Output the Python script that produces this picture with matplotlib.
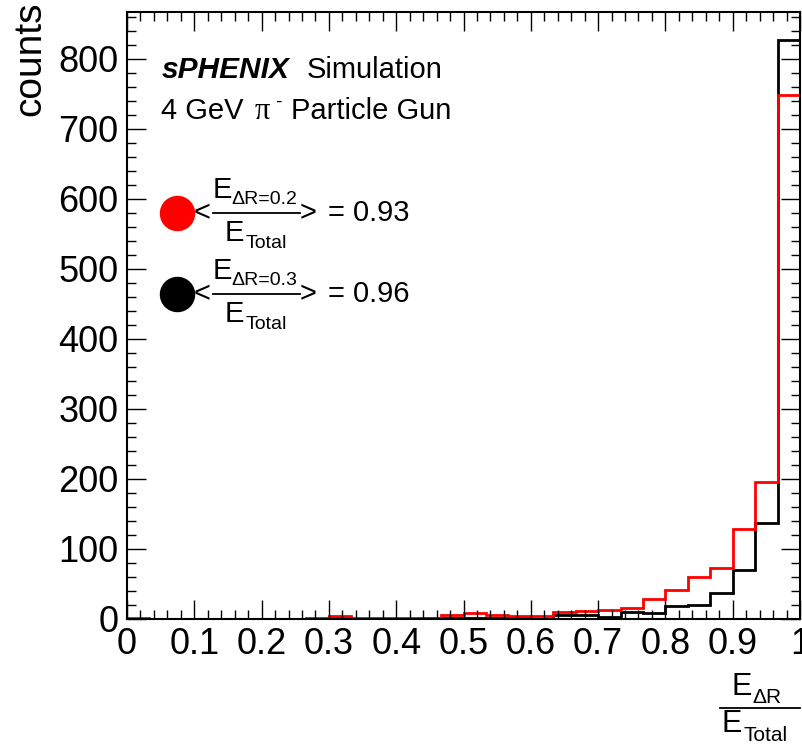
import numpy as np
import matplotlib
matplotlib.use("Agg")
import matplotlib.pyplot as plt
from matplotlib.ticker import MultipleLocator

plt.rcParams['font.family'] = ['Liberation Sans', 'DejaVu Sans']
plt.rcParams['mathtext.fontset'] = 'custom'
plt.rcParams['mathtext.rm'] = 'Liberation Sans'
plt.rcParams['mathtext.it'] = 'Liberation Sans:italic'
plt.rcParams['mathtext.bf'] = 'Liberation Sans:bold'

# ---- data (30 bins from 0 to 1) ----
bin_edges = np.linspace(0.0, 1.0, 31)
counts_dr02 = [1, 0, 0, 0, 0, 0, 0, 0, 1, 4,
               2, 1, 2, 2, 5, 8, 5, 4, 4, 10,
               12, 13, 16, 28, 41, 60, 73, 129, 196, 749]
counts_dr03 = [0, 0, 0, 0, 0, 0, 0, 0, 0, 1,
               0, 0, 0, 1, 1, 1, 1, 1, 0, 6,
               6, 3, 10, 8, 18, 20, 37, 70, 137, 827]
mean_dr02 = "0.93"
mean_dr03 = "0.96"
x_ticks = [0, 0.1, 0.2, 0.3, 0.4, 0.5, 0.6, 0.7, 0.8, 0.9, 1.0]
x_tick_labels = ["0", "0.1", "0.2", "0.3", "0.4", "0.5", "0.6", "0.7", "0.8", "0.9", "1"]
y_ticks = [0, 100, 200, 300, 400, 500, 600, 700, 800]

W, H = 802, 756
fig = plt.figure(figsize=(W / 100, H / 100), dpi=100)
ax = fig.add_axes([127 / W, 1 - 619 / H, 673 / W, 607 / H])

ax.stairs(counts_dr03, bin_edges, color='black', lw=2.0, baseline=0)
ax.stairs(counts_dr02, bin_edges, color='#ff0000', lw=2.0, baseline=0)

ax.set_xlim(0, 1)
ax.set_ylim(0, 867)
ax.set_xticks(x_ticks)
ax.set_xticklabels(x_tick_labels)
ax.set_yticks(y_ticks)
ax.xaxis.set_minor_locator(MultipleLocator(0.02))
ax.yaxis.set_minor_locator(MultipleLocator(20))
ax.tick_params(which='both', direction='in', top=True, right=True, width=1.0, color='black')
ax.tick_params(which='major', length=13.5, labelsize=26, pad=6)
ax.tick_params(which='minor', length=6.5)
for s in ax.spines.values():
    s.set_linewidth(1.5)


def P(x, y):
    return (x / W, 1 - y / H)


# y title
fig.text(*P(30, 2), "counts", rotation=90, ha='center', va='top', fontsize=28)

# header text
fig.text(*P(162, 78), "sPHENIX", fontsize=21.5, fontweight='bold', fontstyle='italic', va='baseline')
fig.text(*P(307, 78), "Simulation", fontsize=21, va='baseline')
fig.text(*P(161, 119), "4 GeV", fontsize=21, va='baseline')
fig.text(*P(255, 119), "\u03c0", fontsize=22, va='baseline',
         family=['Liberation Serif', 'DejaVu Serif'])
fig.text(*P(275, 107), "-", fontsize=14, va='baseline')
fig.text(*P(291, 119), "Particle Gun", fontsize=21, va='baseline')


def legend_row(yc, color, label_sub, value):
    # marker
    ax.plot([177 / W], [1 - yc / H], 'o', ms=24.5, color=color, transform=fig.transFigure, clip_on=False)
    # < and >
    fig.text(*P(194, yc + 8), "<", fontsize=21, va='baseline')
    fig.text(*P(300, yc + 8), ">", fontsize=21, va='baseline')
    # numerator
    fig.text(*P(213, yc - 15), "E", fontsize=21, va='baseline')
    fig.text(*P(231, yc - 9), label_sub, fontsize=14, va='baseline')
    # fraction bar
    fig.add_artist(plt.Line2D([213 / W, 300 / W], [1 - yc / H, 1 - yc / H], color='black', lw=1.3,
                              transform=fig.transFigure))
    # denominator
    fig.text(*P(225, yc + 28), "E", fontsize=21, va='baseline')
    fig.text(*P(246, yc + 35), "Total", fontsize=14, va='baseline')
    # value
    fig.text(*P(328, yc + 8), "= " + value, fontsize=21, va='baseline')


legend_row(213, '#ff0000', "\u0394R=0.2", mean_dr02)
legend_row(294, 'black', "\u0394R=0.3", mean_dr03)

# x title as fraction
fig.text(*P(731, 695), "E", fontsize=22, va='baseline')
fig.text(*P(752, 703), "\u0394R", fontsize=15, va='baseline')
fig.add_artist(plt.Line2D([720 / W, 800 / W], [1 - 708 / H, 1 - 708 / H], color='black', lw=1.3,
                          transform=fig.transFigure))
fig.text(*P(722, 732), "E", fontsize=22, va='baseline')
fig.text(*P(743, 741), "Total", fontsize=15, va='baseline')

fig.savefig("out.png", dpi=100)
